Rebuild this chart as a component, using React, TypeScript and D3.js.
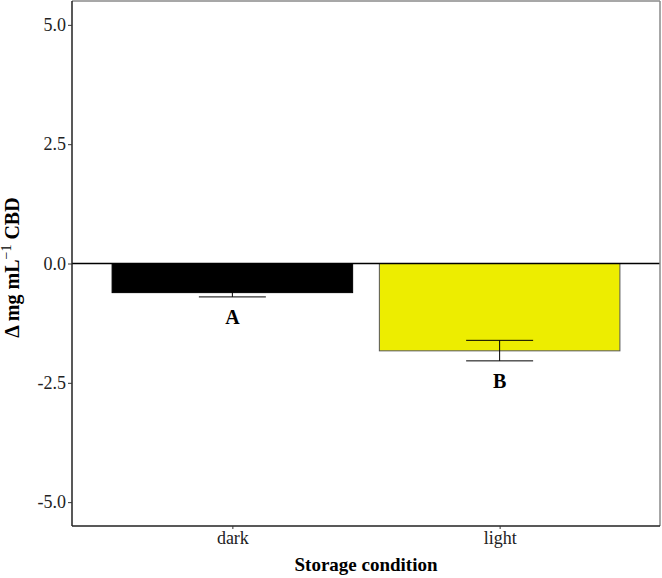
import { useEffect, useRef } from "react";
import * as d3 from "d3";

const W = 662;
const H = 578;
const MARGIN = { top: 1, right: 2, bottom: 52, left: 72 };

// data
const conditions = ["dark", "light"];
const means = [-0.61, -1.83];
const errLow = [-0.7, -2.04];
const errHigh = [-0.52, -1.61];
const letters = ["A", "B"];
const fills = ["#000000", "#EDED00"];
const yTicks = [-5.0, -2.5, 0.0, 2.5, 5.0];

const FONT = "Liberation Serif, DejaVu Serif, serif";

const App = () => {
  const axesRef = useRef<SVGGElement>(null);
  const boundsWidth = W - MARGIN.left - MARGIN.right;
  const boundsHeight = H - MARGIN.top - MARGIN.bottom;

  // ggplot-like discrete scale: expand 0.6 each side, bar width 0.9
  const xScale = d3
    .scaleLinear()
    .domain([0.4, conditions.length + 0.6])
    .range([0, boundsWidth]);
  const barW = xScale(1.9) - xScale(1);
  const capW = 67;
  const yScale = d3.scaleLinear().domain([-5.5, 5.5]).range([boundsHeight, 0]);

  useEffect(() => {
    const g = d3.select(axesRef.current);
    g.selectAll("*").remove();
    const yAxis = d3
      .axisLeft(yScale)
      .tickValues(yTicks)
      .tickFormat((d) => d3.format(".1f")(d as number).replace("−", "-"))
      .tickSize(4)
      .tickPadding(2);
    const ya = g.append("g").call(yAxis).attr("font-family", null).attr("font-size", null);
    ya.select(".domain").remove();
    ya.selectAll("line").attr("stroke", "#333");
    ya.selectAll("text")
      .style("font-family", FONT)
      .style("font-size", "18px")
      .attr("fill", "#222");

    const xAxis = d3
      .axisBottom(xScale)
      .tickValues([1, 2])
      .tickFormat((d) => conditions[(d as number) - 1])
      .tickSize(3)
      .tickPadding(2);
    const xa = g
      .append("g")
      .attr("transform", `translate(0,${boundsHeight})`)
      .call(xAxis)
      .attr("font-family", null)
      .attr("font-size", null);
    xa.select(".domain").remove();
    xa.selectAll("line").attr("stroke", "#333");
    xa.selectAll("text")
      .style("font-family", FONT)
      .style("font-size", "18px")
      .attr("fill", "#222");
  }, []);

  return (
    <svg
      width={W}
      height={H}
      style={{ position: "absolute", left: 0, top: 0, display: "block" }}
    >
      <rect width={W} height={H} fill="#fff" />
      <g transform={`translate(${MARGIN.left},${MARGIN.top})`}>
        {/* bars */}
        {conditions.map((c, i) => {
          const cx = xScale(i + 1);
          return (
            <g key={c}>
              <rect
                x={cx - barW / 2}
                y={yScale(0)}
                width={barW}
                height={yScale(means[i]) - yScale(0)}
                fill={fills[i]}
                stroke={i === 0 ? "#000" : "#555"}
                strokeWidth={1}
              />
              <line x1={cx} x2={cx} y1={yScale(errHigh[i])} y2={yScale(errLow[i])} stroke="#000" strokeWidth={1} />
              <line x1={cx - capW / 2} x2={cx + capW / 2} y1={yScale(errHigh[i])} y2={yScale(errHigh[i])} stroke="#000" strokeWidth={1} />
              <line x1={cx - capW / 2} x2={cx + capW / 2} y1={yScale(errLow[i])} y2={yScale(errLow[i])} stroke="#000" strokeWidth={1} />
              <text
                x={cx}
                y={yScale(errLow[i]) + 27}
                textAnchor="middle"
                fontFamily={FONT}
                fontWeight="bold"
                fontSize={20}
                fill="#000"
              >
                {letters[i]}
              </text>
            </g>
          );
        })}
        {/* zero line */}
        <line x1={0} x2={boundsWidth} y1={yScale(0)} y2={yScale(0)} stroke="#000" strokeWidth={1.6} />
        {/* panel border */}
        <line x1={0} x2={boundsWidth} y1={0} y2={0} stroke="#8a8a8a" strokeWidth={1.5} />
        <line x1={boundsWidth} x2={boundsWidth} y1={0} y2={boundsHeight} stroke="#8a8a8a" strokeWidth={1.5} />
        <line x1={0} x2={0} y1={0} y2={boundsHeight} stroke="#222" strokeWidth={1.5} />
        <line x1={0} x2={boundsWidth} y1={boundsHeight} y2={boundsHeight} stroke="#222" strokeWidth={1.5} />
        <g ref={axesRef} />
      </g>
      {/* axis titles */}
      <text
        transform={`translate(19,${MARGIN.top + boundsHeight / 2 + 4}) rotate(-90)`}
        textAnchor="middle"
        fontFamily={FONT}
        fontWeight="bold"
        fontSize={20}
        fill="#000"
      >
        Δ mg mL
        <tspan dy={-8} fontSize={14} fontWeight="normal">−1</tspan>
        <tspan dy={8}> CBD</tspan>
      </text>
      <text
        x={MARGIN.left + boundsWidth / 2}
        y={571}
        textAnchor="middle"
        fontFamily={FONT}
        fontWeight="bold"
        fontSize={19}
        fill="#000"
      >
        Storage condition
      </text>
    </svg>
  );
};

export default App;
